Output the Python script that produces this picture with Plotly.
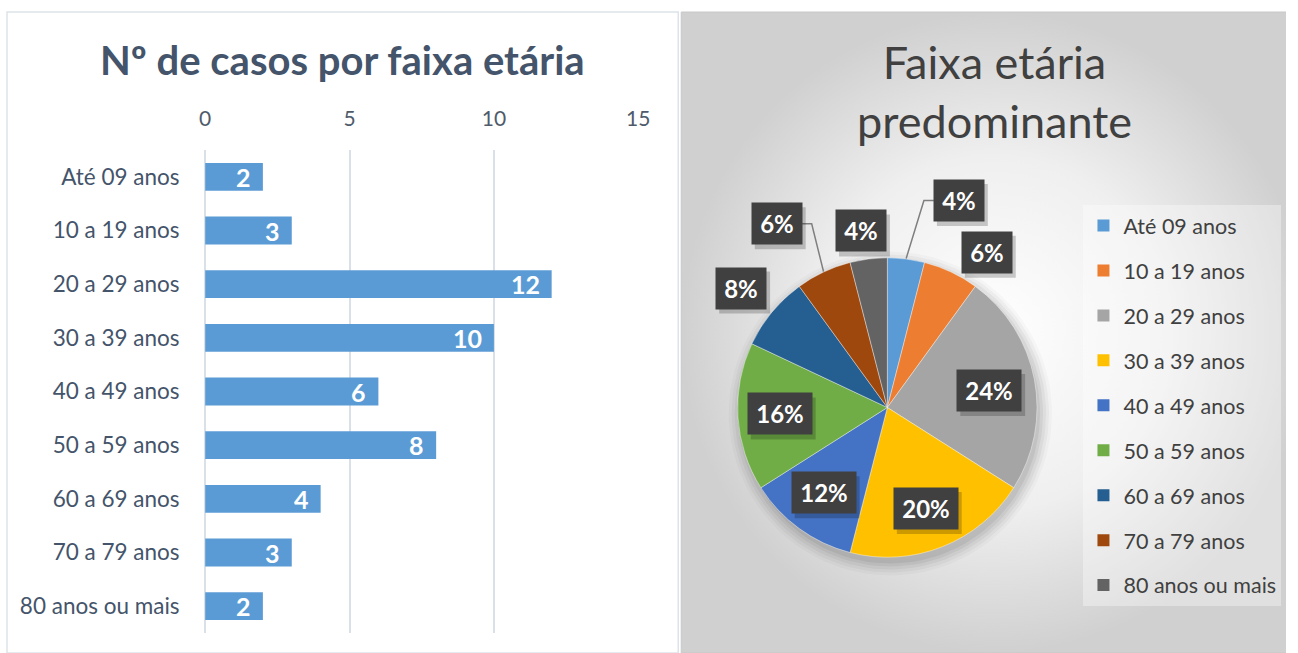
import math
import numpy as np
import plotly.graph_objects as go

# ---------------- data ----------------
categories = ["Até 09 anos", "10 a 19 anos", "20 a 29 anos", "30 a 39 anos",
              "40 a 49 anos", "50 a 59 anos", "60 a 69 anos", "70 a 79 anos",
              "80 anos ou mais"]
cases = [2, 3, 12, 10, 6, 8, 4, 3, 2]
x_ticks = [0, 5, 10, 15]
bar_title = "Nº de casos por faixa etária"
pie_title = "Faixa etária<br>predominante"

# ---------------- style ----------------
slice_colors = ["#5B9BD5", "#ED7D31", "#A5A5A5", "#FFC000", "#4472C4",
                "#70AD47", "#255E91", "#9E480E", "#636363"]
W, H = 1298, 653
FONT = "Lato"
# horizontal calibration of the rendered page (screen_x = X_OFF + X_SCALE * fig_x)
X_OFF, X_SCALE = 5.5, 0.988


def fx(screen_x):
    """figure-x (paper fraction) for a target horizontal pixel"""
    return (screen_x - X_OFF) / X_SCALE / W


PIE_CX, PIE_CY, PIE_R = 888.5, 407.5, 150
label_radius = [1.46, 1.23, 0.69, 0.72, 0.71, 0.72, 1.26, 1.43, 1.19]
label_shift = [11.9, 7.5, 1.4, 0.7, 0.8, 0.2, -0.4, -5.9, -1.3]
leader = [True, False, False, False, False, False, False, True, False]
PANEL = (682, 12, 1310, 653)
BOX_PAD, BOX_H = 5, 31

fig = go.Figure()

# ---- right panel background (radial gradient) on a pixel overlay axis ----
px0, py0, px1, py1 = PANEL
fig.add_trace(go.Scatter(
    x=[px0, px1, px1, px0, px0], y=[py0, py0, py1, py1, py0],
    mode="lines", fill="toself",
    fillgradient=dict(type="radial",
                      colorscale=[[0, "#ffffff"], [0.55, "#efefef"], [1, "#d0d0d0"]]),
    line=dict(color="#c8c8c8", width=1),
    xaxis="x2", yaxis="y2", showlegend=False, hoverinfo="skip"))

# soft pie shadow
th = np.linspace(0, 2 * np.pi, 121)
for dr, a in [(12, 0.025), (9, 0.035), (6, 0.045), (3, 0.05), (0, 0.06)]:
    fig.add_trace(go.Scatter(
        x=PIE_CX + 3 + (PIE_R + dr) * np.cos(th),
        y=PIE_CY + 6 + (PIE_R + dr) * np.sin(th),
        mode="lines", fill="toself", fillcolor=f"rgba(0,0,0,{a})",
        line=dict(width=0), xaxis="x2", yaxis="y2",
        showlegend=False, hoverinfo="skip"))

# ---- bar chart ----
fig.add_trace(go.Bar(
    y=categories, x=cases, orientation="h",
    marker=dict(color="#5B9BD5", line=dict(width=0)),
    xaxis="x", yaxis="y", showlegend=False, hoverinfo="skip"))

# ---- pie chart ----
total = sum(cases)
R_fig = PIE_R / X_SCALE
fig.add_trace(go.Pie(
    labels=categories, values=cases, sort=False, direction="clockwise",
    rotation=0, marker=dict(colors=slice_colors,
                            line=dict(color="rgba(255,255,255,0.5)", width=0.8)),
    textinfo="none", showlegend=False, hoverinfo="label+percent",
    domain=dict(x=[fx(PIE_CX) - R_fig / W, fx(PIE_CX) + R_fig / W],
                y=[1 - (PIE_CY + 151) / H, 1 - (PIE_CY - 151) / H])))

# legend entries
for i, (c, col) in enumerate(zip(categories, slice_colors)):
    fig.add_trace(go.Scatter(
        x=[None], y=[None], mode="markers", name=c,
        marker=dict(symbol="square", size=14, color=col),
        legendgroup=str(i), xaxis="x2", yaxis="y2", showlegend=True))

annotations = []
shapes = [dict(type="rect", xref="paper", yref="paper",
               x0=fx(6.5), x1=fx(679), y0=0, y1=1 - 12 / H,
               line=dict(color="#DDE3EA", width=1.5), layer="below")]

# bar value labels
for c, v in zip(categories, cases):
    annotations.append(dict(x=v, y=c, xref="x", yref="y", text=str(v),
                            xanchor="right", xshift=-10, showarrow=False,
                            font=dict(family=FONT, size=25, color="white",
                                      weight="bold")))

# pie percentage labels
cum = 0
for i, v in enumerate(cases):
    mid = (cum + v / 2) / total * 360
    cum += v
    ang = math.radians(mid + label_shift[i])
    lx = PIE_CX + label_radius[i] * PIE_R * math.sin(ang)
    ly = PIE_CY - label_radius[i] * PIE_R * math.cos(ang)
    txt = f"{round(v / total * 100)}%"
    bw = 40 if len(txt) == 2 else 54
    hw, hh = bw / 2 + BOX_PAD, BOX_H / 2 + BOX_PAD
    # drop shadow of the label box
    shapes.append(dict(type="rect", xref="x2", yref="y2", layer="above",
                       x0=lx - hw + 3, x1=lx + hw + 4,
                       y0=ly - hh + 4, y1=ly + hh + 5,
                       fillcolor="rgba(0,0,0,0.2)", line=dict(width=0)))
    annotations.append(dict(x=lx, y=ly, xref="x2", yref="y2", text=txt,
                            showarrow=False, bgcolor="#404040",
                            borderpad=BOX_PAD, width=bw, height=BOX_H,
                            font=dict(family=FONT, size=24, color="white",
                                      weight="bold")))
    if leader[i]:
        mrad = math.radians(mid)
        ex = PIE_CX + PIE_R * math.sin(mrad)
        ey = PIE_CY - PIE_R * math.cos(mrad)
        if lx > ex:
            bx = lx - hw
            elbow = bx - 10
        else:
            bx = lx + hw
            elbow = bx + 10
        fig.add_trace(go.Scatter(x=[ex, elbow, bx], y=[ey, ly, ly], mode="lines",
                                 line=dict(color="#7f7f7f", width=1.5),
                                 xaxis="x2", yaxis="y2", showlegend=False,
                                 hoverinfo="skip"))

# titles
annotations.append(dict(x=fx(343), y=1 - 60 / H, xref="paper", yref="paper",
                        text=bar_title, showarrow=False, xanchor="center",
                        yanchor="middle",
                        font=dict(family=FONT, size=40, color="#44546A",
                                  weight="bold")))
annotations.append(dict(x=fx(996), y=1 - 91 / H, xref="paper", yref="paper",
                        text=pie_title, showarrow=False, xanchor="center",
                        yanchor="middle",
                        font=dict(family=FONT, size=45, color="#404040")))

fig.update_layout(
    width=W, height=H, margin=dict(l=0, r=0, t=0, b=0),
    paper_bgcolor="white", plot_bgcolor="rgba(0,0,0,0)",
    bargap=0.48,
    font=dict(family=FONT),
    xaxis=dict(domain=[fx(205), fx(639)], range=[0, 15], side="top",
               tickvals=x_ticks, showgrid=True, gridcolor="#D9E0E8",
               gridwidth=1.5,
               zeroline=True, zerolinecolor="#D9E0E8", zerolinewidth=1.5,
               showline=False,
               ticks="outside", ticklen=15, tickcolor="rgba(0,0,0,0)",
               tickfont=dict(family=FONT, size=21, color="#4F5B6B"),
               fixedrange=True),
    yaxis=dict(domain=[20 / H, 503 / H], autorange="reversed",
               categoryorder="array", categoryarray=categories,
               showgrid=False, zeroline=False, showline=False,
               ticks="outside", ticklen=20, tickcolor="rgba(0,0,0,0)",
               tickfont=dict(family=FONT, size=22.5, color="#44546A"),
               fixedrange=True),
    xaxis2=dict(domain=[0, 1], range=[X_OFF, X_OFF + X_SCALE * W],
                visible=False, fixedrange=True),
    yaxis2=dict(domain=[0, 1], range=[H, 0], visible=False, fixedrange=True),
    legend=dict(x=fx(1085), xanchor="left", y=1 - 205 / H, yanchor="top",
                bgcolor="rgba(255,255,255,0.35)", tracegroupgap=14,
                font=dict(family=FONT, size=21.5, color="#404040"),
                itemsizing="constant"),
    shapes=shapes,
    annotations=annotations,
)

fig.write_html("out.html", config={"displayModeBar": False},
               post_script="document.body.style.margin='0';"
                           "document.body.style.overflow='hidden';")
